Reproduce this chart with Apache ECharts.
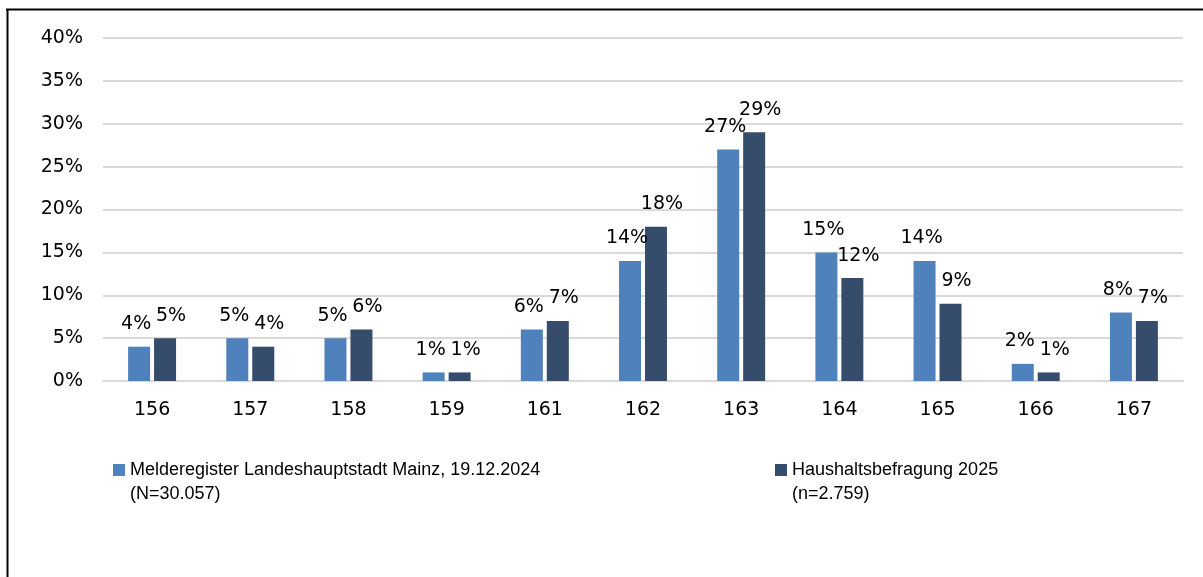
<!DOCTYPE html>
<html>
<head>
<meta charset="utf-8">
<script src="https://cdn.jsdelivr.net/npm/echarts@6/dist/echarts.min.js"></script>
<style>
  html, body { margin: 0; padding: 0; background: #fff; }
  #chart { width: 1203px; height: 577px; }
</style>
</head>
<body>
<div id="chart"></div>
<script>
const categories = ['156', '157', '158', '159', '161', '162', '163', '164', '165', '166', '167'];
const melderegister = [4, 5, 5, 1, 6, 14, 27, 15, 14, 2, 8];
const haushalt = [5, 4, 6, 1, 7, 18, 29, 12, 9, 1, 7];
const seriesNames = [
  'Melderegister Landeshauptstadt Mainz, 19.12.2024\n(N=30.057)',
  'Haushaltsbefragung 2025\n(n=2.759)'
];
const yTicks = { min: 0, max: 40, interval: 5 };

const numFont = 'DejaVu Sans';
const textFont = 'Liberation Sans';
const myChart = echarts.init(document.getElementById('chart'));

function barLabel(offsetX) {
  return {
    show: true,
    position: 'top',
    distance: 13,
    offset: [offsetX, 0],
    formatter: '{c}%',
    color: '#000',
    fontSize: 19,
    fontFamily: numFont
  };
}

// empty first line keeps the legend square level with the first text line
const legendText = {
  color: '#000',
  fontSize: 18,
  fontFamily: textFont,
  rich: {
    p: { fontSize: 18, lineHeight: 24, fontFamily: textFont },
    t: { fontSize: 18, lineHeight: 24, fontFamily: textFont, color: '#000' }
  }
};
const legendFormatter = name => '{p| }\n' + name.split('\n').map(s => '{t|' + s + '}').join('\n');

const option = {
  animation: false,
  backgroundColor: '#fff',
  color: ['#4f81bd', '#364c6b'],
  grid: { left: 103, right: 20, top: 38, bottom: 196 },
  legend: [
    {
      left: 113, top: 437, padding: 0,
      itemWidth: 12, itemHeight: 12, itemGap: 8,
      icon: 'rect',
      data: [seriesNames[0]],
      formatter: legendFormatter,
      textStyle: legendText
    },
    {
      left: 775, top: 437, padding: 0,
      itemWidth: 12, itemHeight: 12, itemGap: 8,
      icon: 'rect',
      data: [seriesNames[1]],
      formatter: legendFormatter,
      textStyle: legendText
    }
  ],
  xAxis: {
    type: 'category',
    data: categories,
    axisLine: { show: true, lineStyle: { color: '#d9d9d9', width: 2 } },
    axisTick: { show: false },
    axisLabel: { color: '#000', fontSize: 19, fontFamily: numFont, margin: 20 }
  },
  yAxis: {
    type: 'value',
    min: yTicks.min,
    max: yTicks.max,
    interval: yTicks.interval,
    axisLine: { show: false },
    axisTick: { show: false },
    splitLine: { lineStyle: { color: '#d9d9d9', width: 2 } },
    axisLabel: { color: '#000', fontSize: 19, fontFamily: numFont, margin: 20, formatter: '{value}%' }
  },
  series: [
    {
      name: seriesNames[0],
      type: 'bar',
      data: melderegister,
      barWidth: 22,
      barGap: '18%',
      label: barLabel(-3)
    },
    {
      name: seriesNames[1],
      type: 'bar',
      data: haushalt,
      barWidth: 22,
      label: barLabel(6)
    }
  ],
  graphic: [
    { type: 'line', shape: { x1: 6, y1: 9.5, x2: 1203, y2: 9.5 }, style: { stroke: '#000', lineWidth: 2 } },
    { type: 'line', shape: { x1: 7.5, y1: 9, x2: 7.5, y2: 577 }, style: { stroke: '#000', lineWidth: 2 } }
  ]
};

myChart.setOption(option);
window.addEventListener('resize', () => {
  myChart.resize();
});
</script>
</body>
</html>
